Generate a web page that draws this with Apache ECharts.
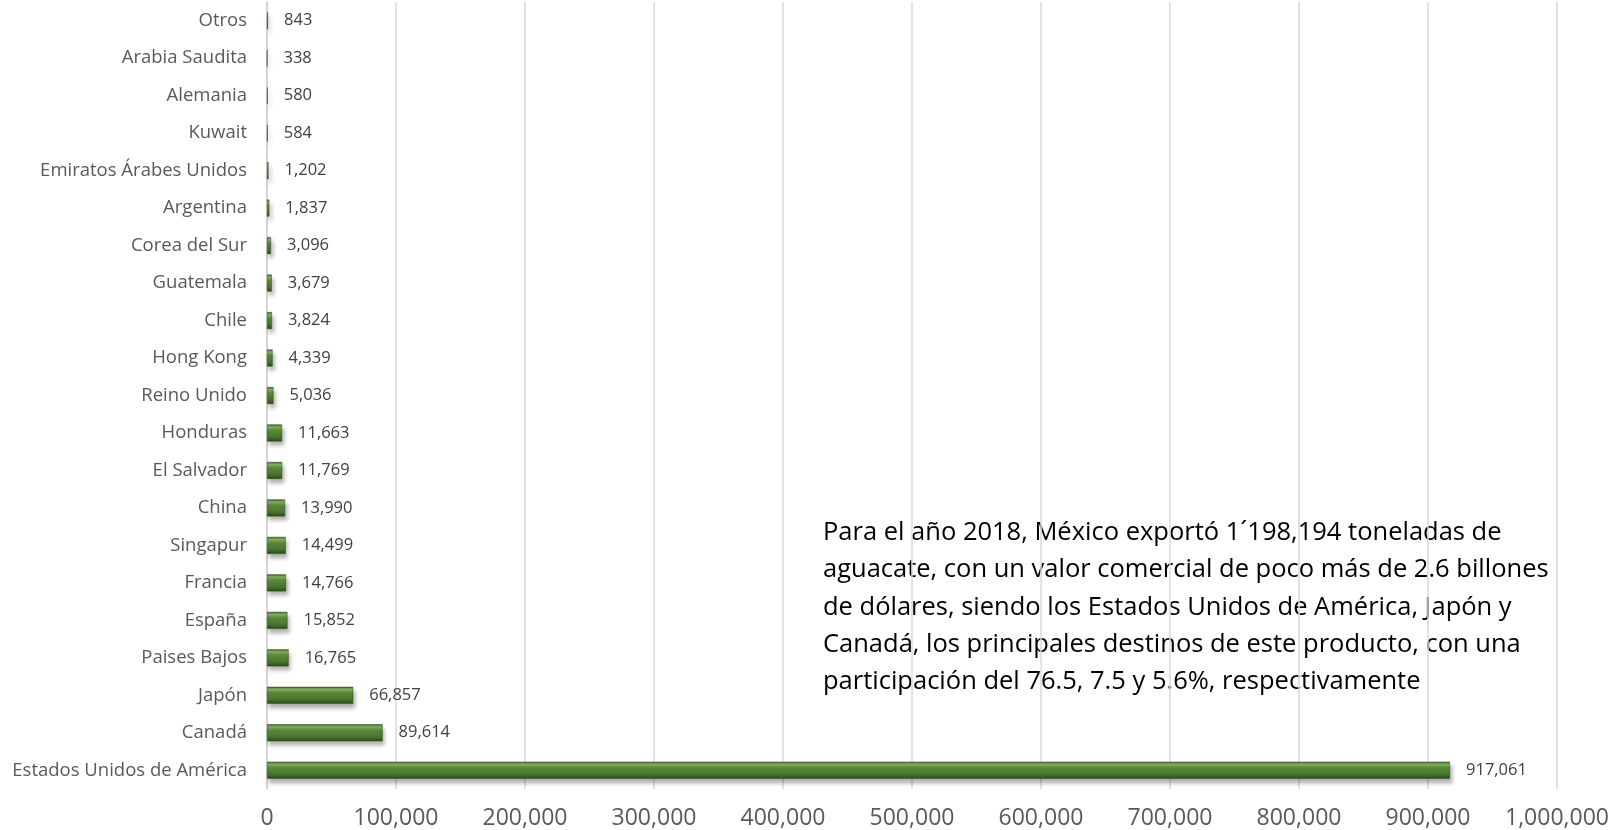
<!DOCTYPE html>
<html>
<head>
<meta charset="utf-8">
<script src="https://cdn.jsdelivr.net/npm/echarts@6/dist/echarts.min.js"></script>
<style>
html,body{margin:0;padding:0;background:#ffffff;}
#chart{width:1614px;height:830px;}
</style>
</head>
<body>
<div id="chart"></div>
<script>
const categories = ['Estados Unidos de América','Canadá','Japón','Paises Bajos','España','Francia','Singapur','China','El Salvador','Honduras','Reino Unido','Hong Kong','Chile','Guatemala','Corea del Sur','Argentina','Emiratos Árabes Unidos','Kuwait','Alemania','Arabia Saudita','Otros'];
const values = [917061, 89614, 66857, 16765, 15852, 14766, 14499, 13990, 11769, 11663, 5036, 4339, 3824, 3679, 3096, 1837, 1202, 584, 580, 338, 843];
const axisMin = 0, axisMax = 1000000, axisStep = 100000;
const noteLines = [
  'Para el año 2018, México exportó 1´198,194 toneladas de',
  'aguacate, con un valor comercial de poco más de 2.6 billones',
  'de dólares, siendo los Estados Unidos de América, Japón y',
  'Canadá, los principales destinos de este producto, con una',
  'participación del 76.5, 7.5 y 5.6%, respectivamente'
];

const fmt = v => Number(v).toLocaleString('en-US');
const FONT = '"Open Sans"';
const chart = echarts.init(document.getElementById('chart'));
chart.setOption({
  backgroundColor: '#ffffff',
  animation: false,
  textStyle: { fontFamily: FONT },
  grid: { left: 267, right: 57, top: 2, bottom: 41, containLabel: false },
  xAxis: {
    type: 'value', min: axisMin, max: axisMax, interval: axisStep,
    axisLine: { show: false }, axisTick: { show: false },
    splitLine: { show: true, lineStyle: { color: '#d9d9d9', width: 1.5 } },
    axisLabel: { formatter: fmt, color: '#595959', fontSize: 23, margin: 18, fontFamily: FONT }
  },
  yAxis: {
    type: 'category', data: categories,
    axisLine: { show: true, lineStyle: { color: '#d0d0d0', width: 1.5 } },
    axisTick: { show: false },
    axisLabel: { color: '#595959', fontSize: 18.5, margin: 20, fontFamily: FONT }
  },
  graphic: [{
    type: 'text', left: 823, top: 514,
    style: { text: noteLines.join('\n'), fill: '#000000', font: '25.5px "Open Sans"', lineHeight: 37.3 }
  }],
  series: [{
    type: 'bar', data: values, barWidth: 17,
    itemStyle: {
      color: { type: 'linear', x: 0, y: 0, x2: 0, y2: 1, colorStops: [
        { offset: 0, color: '#3d6426' },
        { offset: 0.15, color: '#86b062' },
        { offset: 0.35, color: '#5c8b3c' },
        { offset: 0.75, color: '#48732f' },
        { offset: 1, color: '#2b4819' }
      ]},
      borderColor: '#2f4d1e', borderWidth: 0.5,
      shadowColor: 'rgba(0,0,0,0.3)', shadowBlur: 4, shadowOffsetX: 2, shadowOffsetY: 4
    },
    label: { show: true, position: 'right', distance: 16, formatter: p => fmt(p.value), color: '#404040', fontSize: 16.5, fontFamily: FONT }
  }]
});
</script>
</body>
</html>
